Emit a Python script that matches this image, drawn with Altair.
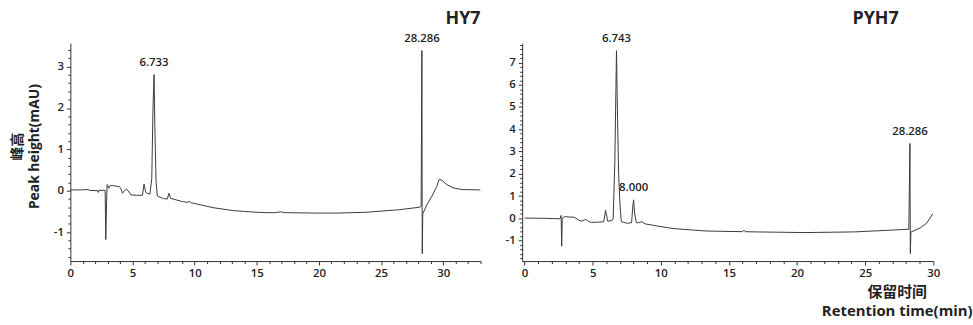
import altair as alt
import pandas as pd

# ---------------- data ----------------
hy7_time = [0.0, 0.8, 1.46, 1.5, 2.2, 2.25, 2.3, 2.8, 2.85, 2.92, 2.96, 3.1, 3.2, 3.5, 3.94,
            4.05, 4.2, 4.35, 4.5, 4.65, 4.87, 5.3, 5.8, 5.93, 6.05, 6.15, 6.4, 6.55, 6.65,
            6.733, 6.8, 6.9, 7.0, 7.5, 7.8, 7.93, 8.05, 8.5, 9.0, 9.39, 9.55, 9.73, 10.45,
            11.5, 13.1, 14.0, 15.0, 15.8, 16.5, 16.9, 17.3, 19.8, 21.5, 23.8, 26.4, 28.07,
            28.22, 28.28, 28.31, 28.35, 28.68, 29.07, 29.47, 29.66, 29.87, 30.27, 30.8,
            31.47, 33.0]
hy7_signal = [0.02, 0.02, 0.03, 0.01, 0.0, -0.04, 0.01, 0.01, -1.18, -0.2, 0.15, 0.06, 0.13,
              0.12, 0.1, 0.06, -0.06, 0.0, 0.04, 0.0, -0.1, -0.11, -0.11, 0.16, -0.02, -0.06,
              -0.08, 0.3, 2.0, 2.81, 1.5, 0.2, -0.13, -0.19, -0.2, -0.06, -0.18, -0.22, -0.26,
              -0.28, -0.26, -0.29, -0.34, -0.41, -0.48, -0.5, -0.52, -0.53, -0.53, -0.51,
              -0.53, -0.54, -0.54, -0.52, -0.46, -0.40, -0.38, 3.39, -1.52, -0.56, -0.34,
              -0.14, 0.10, 0.27, 0.26, 0.15, 0.07, 0.03, 0.02]

pyh7_time = [0.0, 1.5, 2.6, 2.68, 2.72, 2.76, 2.85, 3.0, 3.2, 3.64, 4.0, 4.17, 4.48, 4.73,
             4.9, 5.5, 5.81, 5.94, 6.1, 6.4, 6.5, 6.62, 6.743, 6.82, 6.9, 7.0, 7.1, 7.5,
             7.85, 7.95, 8.0, 8.08, 8.2, 8.35, 8.6, 8.85, 9.69, 10.9, 13.3, 16.0, 16.1,
             16.2, 16.9, 20.6, 24.2, 26.6, 28.2, 28.28, 28.31, 28.35, 29.04, 29.52, 29.96]
pyh7_signal = [0.01, 0.0, -0.02, 0.13, -1.25, -0.05, 0.05, 0.08, 0.06, 0.05, -0.09, -0.13,
               -0.05, -0.15, -0.18, -0.17, -0.15, 0.36, -0.13, -0.1, 0.0, 2.5, 7.53, 4.5,
               2.0, 0.6, -0.15, -0.22, -0.2, 0.6, 0.83, 0.2, -0.2, -0.2, -0.15, -0.25,
               -0.34, -0.46, -0.57, -0.6, -0.53, -0.6, -0.61, -0.64, -0.61, -0.54, -0.49,
               3.36, -1.58, -0.62, -0.43, -0.21, 0.21]

hy7_peak_time = [6.733, 28.286]
hy7_peak_height = [2.81, 3.39]
hy7_peak_label = ["6.733", "28.286"]

pyh7_peak_time = [6.743, 8.000, 28.286]
pyh7_peak_height = [7.53, 0.83, 3.36]
pyh7_peak_label = ["6.743", "8.000", "28.286"]

panel_titles = ["HY7", "PYH7"]
y_title = ["峰高", "Peak height(mAU)"]
x_title = ["保留时间", "Retention time(min)"]

FONT = "Open Sans, Noto Sans CJK SC, sans-serif"
INK = "#222222"


def ticks(lo, hi, step):
    n = int(round((hi - lo) / step))
    return [round(lo + i * step, 3) for i in range(n + 1)]


def panel(times, signal, pk_t, pk_h, pk_l, xdom, ydom, xvals, yvals, title, width,
          show_ytitle, show_xtitle, title_dx):
    df = pd.DataFrame({"t": times, "v": signal})
    pk = pd.DataFrame({"t": pk_t, "v": pk_h, "label": pk_l})

    x_kwargs = dict(
        values=xvals,
        labelExpr="datum.value % 5 === 0 ? '' + datum.value : ''",
        tickSize={"condition": {"test": "datum.value % 5 === 0", "value": 4}, "value": 2.5},
        grid=False, domainColor="#333", tickColor="#333",
        labelFont=FONT, labelFontSize=11.5, labelFontWeight=600, labelColor=INK,
        labelPadding=3, labelOverlap=False, labelFlush=False,
    )
    if show_xtitle:
        x_kwargs.update(title=x_title, titleFont=FONT, titleFontSize=15,
                        titleFontWeight="bold", titleColor=INK, titleX=378, titleY=24,
                        titleAlign="center", titleBaseline="top", titleLineHeight=19,
                        titleAngle=0)
    else:
        x_kwargs.update(title="")

    int_test = "abs(datum.value - round(datum.value)) < 0.001"
    y_kwargs = dict(
        values=yvals,
        labelExpr=int_test + " ? '' + round(datum.value) : ''",
        tickSize={"condition": {"test": int_test, "value": 4}, "value": 2.5},
        grid=False, domainColor="#333", tickColor="#333",
        labelFont=FONT, labelFontSize=11.5, labelFontWeight=600, labelColor=INK,
        labelPadding=3, labelOverlap=False, labelFlush=False,
    )
    if show_ytitle:
        y_kwargs.update(title=y_title, titleFont=FONT, titleFontSize=14,
                        titleFontWeight="bold", titleColor=INK, titleAngle=-90,
                        titleX=-60, titleY=104, titleAlign="center",
                        titleBaseline="top", titleLineHeight=17)
    else:
        y_kwargs.update(title="")

    x = alt.X("t:Q", scale=alt.Scale(domain=xdom, nice=False, zero=False),
              axis=alt.Axis(**x_kwargs))
    y = alt.Y("v:Q", scale=alt.Scale(domain=ydom, nice=False, zero=False),
              axis=alt.Axis(**y_kwargs))

    line = alt.Chart(df).mark_line(color="#3a3a3a", strokeWidth=1, clip=True).encode(
        x=x, y=y, order="t:Q")
    text = alt.Chart(pk).mark_text(font=FONT, fontSize=11.5, fontWeight=600, color=INK,
                                   dy=-7, baseline="bottom").encode(
        x=x, y=y, text="label:N")

    return alt.layer(line, text).properties(
        width=width, height=220,
        title=alt.TitleParams(title, anchor="end", frame="group", font=FONT, fontSize=18,
                              fontWeight="bold", color=INK, offset=5, dx=title_dx),
    )


left = panel(hy7_time, hy7_signal, hy7_peak_time, hy7_peak_height, hy7_peak_label,
             [0, 33], [-1.7, 3.57], ticks(0, 33, 1), ticks(-1.6, 3.4, 0.2),
             panel_titles[0], 414, True, False, 0)
right = panel(pyh7_time, pyh7_signal, pyh7_peak_time, pyh7_peak_height, pyh7_peak_label,
              [-0.18, 30], [-1.92, 7.87], ticks(0, 30, 1), ticks(-1.8, 7.8, 0.2),
              panel_titles[1], 415, False, True, -35)

chart = alt.hconcat(left, right, spacing=23).properties(
    padding={"left": 10, "top": 8, "right": 0, "bottom": 0},
    background="white",
).configure_view(strokeWidth=0)

chart.save("out.html", embed_options={"renderer": "svg", "actions": False})
